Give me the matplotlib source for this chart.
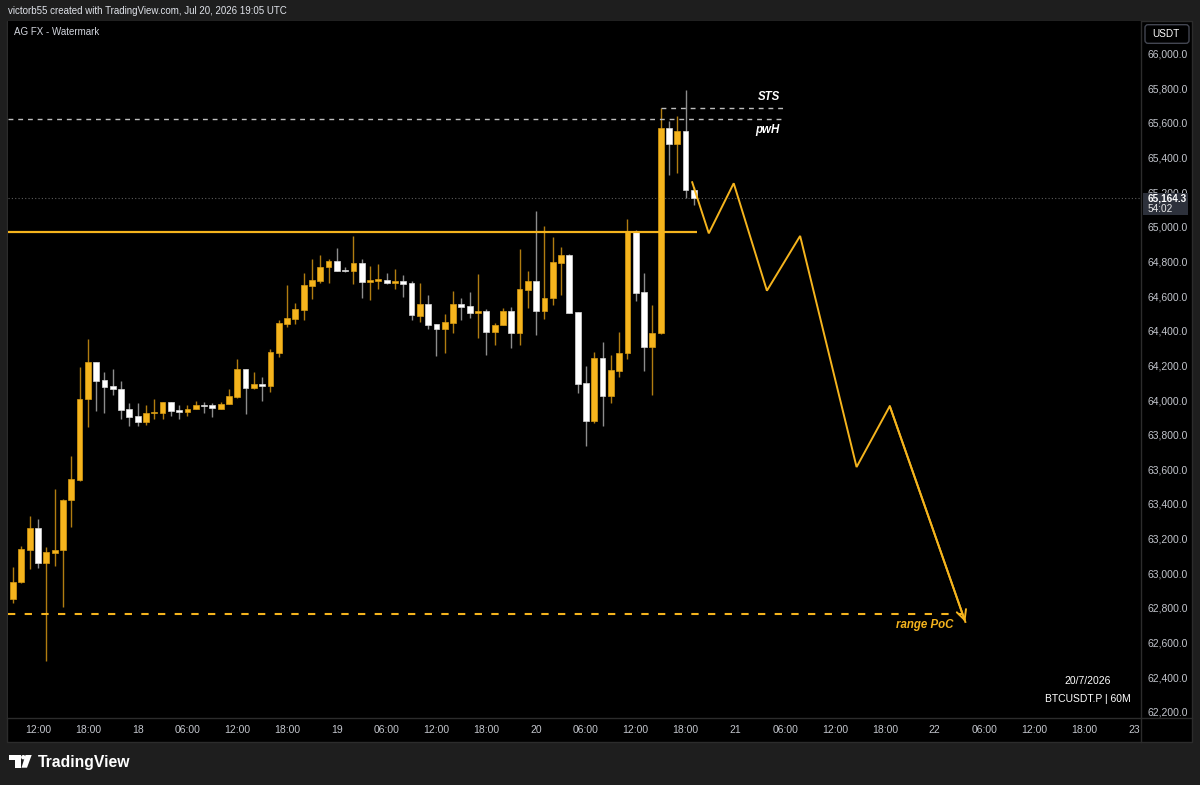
import numpy as np
import matplotlib
matplotlib.use("Agg")
import matplotlib.pyplot as plt
from matplotlib import transforms
from matplotlib.patches import Rectangle, FancyBboxPatch, Polygon, Circle
from matplotlib.lines import Line2D

plt.rcParams['font.family'] = ['Liberation Sans', 'DejaVu Sans']

# 60M candles, x = hours counted from Jul 17 00:00 UTC
hours = np.arange(9, 92)
opens = [62850, 62950, 63136, 63263, 63061, 63119, 63132, 63421, 63540, 64004,
         64218, 64115, 64079, 64065, 63946, 63906, 63871, 63923, 63925, 63987,
         63942, 63929, 63946, 63973, 63973, 63950, 63975, 64019, 64177, 64071,
         64092, 64081, 64273, 64439, 64467, 64519, 64660, 64689, 64766, 64804,
         64750, 64743, 64791, 64681, 64687, 64693, 64677, 64689, 64677, 64485,
         64556, 64439, 64410, 64446, 64554, 64543, 64504, 64515, 64391, 64431,
         64512, 64387, 64635, 64689, 64515, 64587, 64792, 64837, 64506, 64096,
         63880, 64244, 64023, 64169, 64270, 64970, 64623, 64308, 64385, 65570,
         65476, 65554, 65212]
highs = [63034, 63157, 63330, 63313, 63150, 63486, 63430, 63675, 64190, 64352,
         64220, 64160, 64181, 64111, 63981, 63984, 63971, 64008, 63990, 63990,
         63969, 63971, 63994, 63990, 63981, 63987, 64065, 64235, 64180, 64163,
         64134, 64294, 64462, 64664, 64560, 64735, 64814, 64837, 64814, 64877,
         64766, 64948, 64814, 64773, 64787, 64735, 64756, 64722, 64689, 64675,
         64606, 64440, 64495, 64631, 64590, 64623, 64729, 64525, 64443, 64531,
         64535, 64872, 64745, 65091, 65004, 64939, 64885, 64840, 64508, 64196,
         64279, 64333, 64258, 64391, 65043, 64981, 64731, 64547, 65684, 65612,
         65639, 65789, 65228]
lows = [62827, 62945, 63026, 63029, 62495, 63044, 62807, 63265, 63535, 63846,
        63938, 63925, 64027, 63889, 63852, 63852, 63856, 63892, 63892, 63908,
        63889, 63908, 63946, 63923, 63904, 63950, 63975, 64013, 63919, 64062,
        63996, 64048, 64246, 64423, 64439, 64462, 64583, 64677, 64677, 64746,
        64739, 64668, 64590, 64579, 64641, 64670, 64641, 64596, 64462, 64452,
        64408, 64254, 64273, 64388, 64462, 64472, 64360, 64258, 64316, 64431,
        64302, 64316, 64531, 64377, 64467, 64548, 64604, 64500, 64039, 63734,
        63865, 63852, 63981, 64134, 64235, 64571, 64169, 64031, 64380, 65300,
        65312, 65168, 65125]
closes = [62951, 63140, 63263, 63061, 63123, 63134, 63425, 63544, 64007, 64218,
          64111, 64075, 64062, 63942, 63902, 63871, 63923, 63931, 63987, 63937,
          63931, 63950, 63971, 63965, 63954, 63977, 64025, 64177, 64069, 64092,
          64081, 64275, 64443, 64472, 64523, 64662, 64693, 64769, 64804, 64746,
          64743, 64791, 64681, 64689, 64694, 64675, 64687, 64671, 64489, 64556,
          64435, 64410, 64448, 64554, 64538, 64504, 64515, 64391, 64435, 64512,
          64388, 64639, 64689, 64515, 64590, 64797, 64837, 64504, 64092, 63880,
          64244, 64023, 64173, 64273, 64970, 64619, 64308, 64385, 65570, 65476,
          65554, 65212, 65164.3]

# drawn levels
level_range = 64970
level_pwh = 65620
level_sts = 65684
level_poc = 62763

# projected path
proj_hours = [90.8, 92.8, 95.8, 99.8, 103.8, 110.6, 114.6, 123.7]
proj_prices = [65257, 64962, 65251, 64631, 64947, 63613, 63965, 62719]

tick_hours = list(range(12, 145, 6))
tick_labels = ["12:00", "18:00", "18", "06:00", "12:00", "18:00", "19", "06:00",
               "12:00", "18:00", "20", "06:00", "12:00", "18:00", "21", "06:00",
               "12:00", "18:00", "22", "06:00", "12:00", "18:00", "23"]
price_ticks = np.arange(62200, 66001, 200)

W, H = 1200, 785
BG = '#1e1e1e'
ORANGE = '#f5b41d'
ORANGE_WICK = '#b07c10'
WHITE_WICK = '#8c8c8c'
GRID = '#2c2c2c'
LABEL = '#c3c6cd'

fig = plt.figure(figsize=(W / 100, H / 100), dpi=100, facecolor=BG)
px = transforms.Affine2D().scale(1, -1).translate(0, H)  # pixel coords, origin top-left

# chart panel
fig.add_artist(Rectangle((7, 20.5), 1185, 721.5, transform=px, facecolor='black',
                         edgecolor=GRID, lw=1, zorder=-1))

ax = fig.add_axes([8 / W, (H - 718) / H, 1133 / W, 697.5 / H])
ax.set_facecolor('black')
ax.set_xlim(8.386, 144.86)
ax.set_ylim(62164.5, 66190.5)
for s in ax.spines.values():
    s.set_visible(False)

o = np.array(opens, dtype=float)
c = np.array(closes, dtype=float)
hi = np.array(highs, dtype=float)
lo = np.array(lows, dtype=float)
up = c >= o

ax.vlines(hours[up], lo[up], hi[up], color=ORANGE_WICK, lw=1, zorder=2)
ax.vlines(hours[~up], lo[~up], hi[~up], color=WHITE_WICK, lw=1, zorder=2)
body_col = np.where(up, ORANGE, '#ffffff')
edge_col = np.where(up, '#d89b12', '#d9d9d9')
ax.bar(hours, np.maximum(np.abs(c - o), 9), bottom=np.minimum(o, c), width=0.7,
       color=body_col, edgecolor=edge_col, lw=0.5, zorder=3)

# levels
x0 = ax.get_xlim()[0]
ax.hlines(level_range, x0, 91.37, color=ORANGE, lw=1.6, zorder=4)
ax.hlines(level_pwh, x0, 101.7, color='#bdbdbd', lw=1, ls=(0, (3.5, 3.5)), zorder=4)
ax.hlines(level_sts, 87, 101.7, color='#bdbdbd', lw=1, ls=(0, (3.5, 3.5)), zorder=4)
ax.hlines(level_poc, x0, 123.4, color=ORANGE, lw=1.5, ls=(0, (3.5, 4.5)), zorder=4)
ax.axhline(closes[-1], color='#5c5c5c', lw=0.8, ls=(0, (1, 2)), zorder=1)

ax.annotate('STS', xy=(101.7, level_sts), xytext=(-2, 8), textcoords='offset points',
            ha='right', va='center', color='white', fontsize=8.3, fontweight='bold',
            fontstyle='italic')
ax.annotate('pwH', xy=(101.7, level_pwh), xytext=(-2, -7.7), textcoords='offset points',
            ha='right', va='center', color='white', fontsize=8.3, fontweight='bold',
            fontstyle='italic')
ax.annotate('range PoC', xy=(123.4, level_poc), xytext=(-6.5, -7.7), textcoords='offset points',
            ha='right', va='center', color=ORANGE, fontsize=8.3, fontweight='bold',
            fontstyle='italic')

# projected path
ax.plot(proj_hours, proj_prices, color=ORANGE, lw=1.4, zorder=4, solid_joinstyle='miter')
ax.annotate('', xy=(proj_hours[-1], proj_prices[-1]), xytext=(proj_hours[-2], proj_prices[-2]),
            arrowprops=dict(arrowstyle='->,head_length=0.7,head_width=0.35', color=ORANGE,
                            lw=1.4, shrinkA=0, shrinkB=0), zorder=4)

# axes ticks
ax.set_xticks(tick_hours, tick_labels)
ax.tick_params(axis='x', length=0, pad=5, labelsize=7.5, labelcolor=LABEL)
ax.yaxis.tick_right()
ax.set_yticks(price_ticks, [f"{v:,.1f}" for v in price_ticks])
ax.tick_params(axis='y', length=0, pad=5, labelsize=7.5, labelcolor=LABEL)

# separators
fig.add_artist(Line2D([1141, 1141], [20.5, 742], transform=px, color=GRID, lw=1))
fig.add_artist(Line2D([7, 1192], [718, 718], transform=px, color=GRID, lw=1))

# last price box (covers the 65,200 label as in TradingView)
bt = transforms.blended_transform_factory(px, ax.transData)
last = closes[-1]
fig.add_artist(Rectangle((1142.5, last - 97), 45.5, 129, transform=bt,
                         facecolor='#2d313b', edgecolor='none', zorder=5))
fig.text(1147.5, last, f"{last:,.1f}", transform=bt, ha='left', va='center',
         fontsize=7.2, color='white', fontweight='bold', zorder=6)
fig.text(1147.5, last - 60, "54:02", transform=bt, ha='left', va='center',
         fontsize=7.2, color='#e8e8e8', zorder=6)

# USDT box
fig.add_artist(FancyBboxPatch((1145, 24.7), 44, 18.6, boxstyle='round,pad=0,rounding_size=3',
                              transform=px, facecolor='black', edgecolor='#434651', lw=1))
fig.text(1152, 34, "USDT", transform=px, ha='left', va='center', fontsize=7.2,
         color='white')

# header and texts
fig.text(8, 11.5, "victorb55 created with TradingView.com, Jul 20, 2026 19:05 UTC",
         transform=px, ha='left', va='center', fontsize=7, color='#e0e3ea')
fig.text(14, 32.3, "AG FX - Watermark", transform=px, ha='left', va='center',
         fontsize=7, color='#d1d4dc')
fig.text(1088, 681, "20/7/2026", transform=px, ha='center', va='center',
         fontsize=7.5, color='white')
fig.text(1088, 699, "BTCUSDT.P | 60M", transform=px, ha='center', va='center',
         fontsize=7.5, color='white')

# TradingView logo
fig.add_artist(Polygon([(9, 755), (20.7, 755), (20.7, 767.7), (15, 767.7), (15, 760), (9, 760)],
                       closed=True, transform=px, facecolor='white', edgecolor='none'))
fig.add_artist(Circle((23.3, 757.2), 2.2, transform=px, facecolor='white', edgecolor='none'))
fig.add_artist(Polygon([(25.5, 755), (31.7, 755), (27, 767.7), (21.5, 767.7)], closed=True,
                       transform=px, facecolor='white', edgecolor='none'))
fig.text(38, 762, "TradingView", transform=px, ha='left', va='center',
         fontsize=11.3, color='white', fontweight='bold')

fig.savefig("out.png", dpi=100, facecolor=BG)
